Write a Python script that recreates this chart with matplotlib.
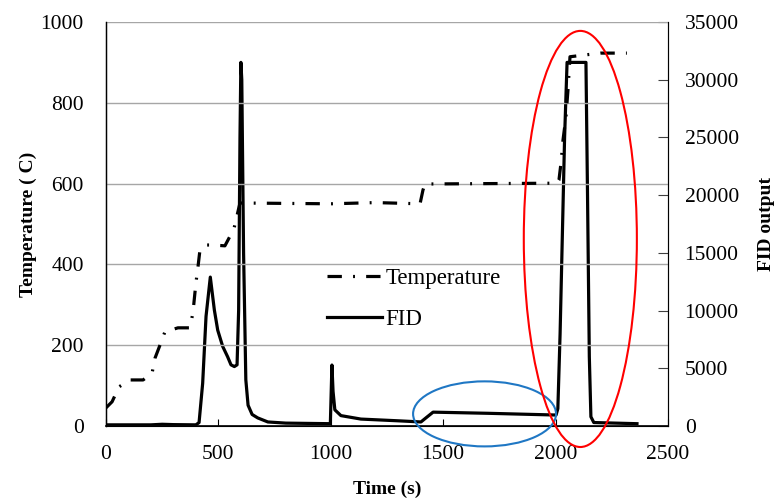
import matplotlib
matplotlib.use("Agg")
import matplotlib.pyplot as plt
from matplotlib.patches import Ellipse
from matplotlib.lines import Line2D

plt.rcParams['font.family'] = ['Liberation Serif', 'DejaVu Serif']

# Temperature trace (s, deg C)
temp_time = [0, 27, 58, 107, 165, 205, 218, 240, 262, 320, 374, 387, 400, 409,
             418, 449, 471, 529, 569, 596, 1000, 1200, 1397, 1410, 1419, 1700,
             2006, 2015, 2024, 2033, 2046, 2055, 2064, 2200, 2317]
temp_vals = [45, 60, 97, 114, 114, 131, 168, 200, 233, 243, 243, 282, 354, 393,
             436, 448, 448, 446, 488, 552, 550, 553, 550, 584, 599, 600,
             601, 609, 651, 708, 765, 832, 914, 923, 923]

# FID output trace
fid_time = [0, 200, 250, 300, 400, 414, 430, 445, 464, 482, 497, 519, 541, 556,
            571, 583, 590, 596, 600, 604, 612, 622, 632, 650, 675, 720, 800,
            998, 1005, 1010, 1018, 1045, 1134, 1300, 1401, 1423, 1455, 1700,
            2002, 2010, 2020, 2040, 2051, 2135, 2142, 2150, 2157, 2170, 2362]
fid_vals = [100, 100, 150, 120, 100, 300, 3700, 9500, 12900, 10050, 8300, 6900,
            6000, 5300, 5150, 5300, 10000, 25000, 31500, 30000, 15000, 4000,
            1800, 1000, 700, 350, 250, 200, 5280, 3000, 1400, 900, 600, 450,
            350, 700, 1200, 1100, 950, 1500, 8000, 25000, 31500, 31500, 20000,
            6000, 800, 300, 200]

x_ticks = [0, 500, 1000, 1500, 2000, 2500]
temp_ticks = [0, 200, 400, 600, 800, 1000]
fid_ticks = [0, 5000, 10000, 15000, 20000, 25000, 30000, 35000]

fig = plt.figure(figsize=(7.78, 5.04), dpi=100)
ax = fig.add_axes([106 / 778, 78 / 504, 562 / 778, 404 / 504])
ax2 = ax.twinx()

ax.set_xlim(0, 2500)
ax.set_ylim(0, 1000)
ax2.set_ylim(0, 35000)

ax.set_yticks(temp_ticks)
ax.set_xticks(x_ticks)
ax2.set_yticks(fid_ticks)

ax.grid(axis='y', color='#a6a6a6', linewidth=1.0)
ax.set_axisbelow(True)

dash = (0, (4.5, 3.5, 0.6, 3.5))
ax.plot(temp_time, temp_vals, color='black', lw=2.3,
        linestyle=dash, dash_capstyle='butt')
ax2.plot(fid_time, fid_vals, color='black', lw=2.3, solid_joinstyle='round')

ax.spines['top'].set_visible(False)
ax2.spines['top'].set_visible(False)
ax2.spines['right'].set_color('#404040')
ax.spines['left'].set_linewidth(1.0)
ax.spines['bottom'].set_linewidth(1.2)

ax.tick_params(axis='x', direction='in', length=5, pad=14, labelsize=15.5)
ax.tick_params(axis='y', length=0, pad=16, labelsize=15.5)
ax2.tick_params(axis='y', direction='in', length=7, pad=12, labelsize=15.5,
                color='#404040')

ax.set_xlabel('Time (s)', fontsize=14, fontweight='bold')
ax.set_ylabel('Temperature ( C)', fontsize=14, fontweight='bold')
ax2.set_ylabel('FID output', fontsize=14, fontweight='bold')
ax.xaxis.set_label_coords(0.5, -0.135)
ax.yaxis.set_label_coords(-0.123, 0.5)
ax2.yaxis.set_label_coords(1.16, 0.5)

# highlight ellipses (temperature-axis data coordinates)
ax.add_patch(Ellipse((1684, 30), 636, 161, fill=False, edgecolor='#1f77c4',
                     lw=1.5, clip_on=False, zorder=5))
ax.add_patch(Ellipse((2110, 463), 503, 1030, fill=False, edgecolor='#ff0000',
                     lw=1.5, clip_on=False, zorder=5))
ax.set_zorder(ax2.get_zorder() + 1)
ax.patch.set_visible(False)

handles = [Line2D([], [], color='black', lw=2.3, linestyle=dash),
           Line2D([], [], color='black', lw=2.3)]
ax.legend(handles, ['Temperature', 'FID'], loc='upper left',
          bbox_to_anchor=(0.393, 0.39), frameon=False, fontsize=16.5,
          borderpad=0, borderaxespad=0,
          handlelength=2.4, handletextpad=0.15, labelspacing=0.85)

fig.savefig('out.png', dpi=100)
